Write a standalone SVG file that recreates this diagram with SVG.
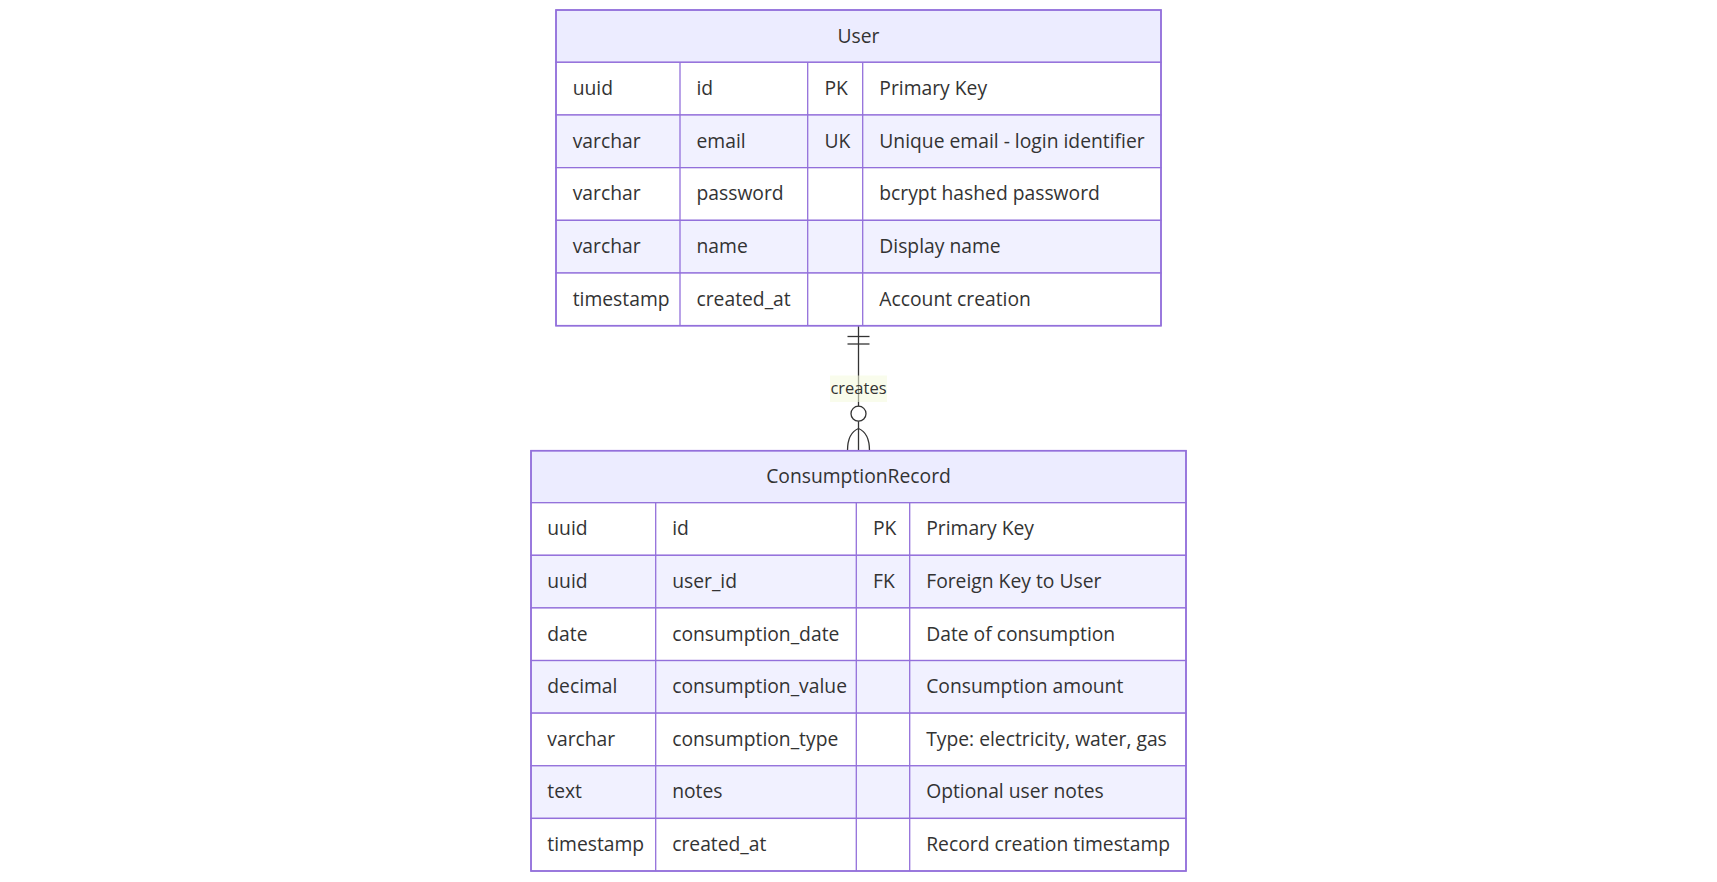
<svg xmlns="http://www.w3.org/2000/svg" width="1717" height="882" viewBox="0 0 1717 882">
<style>
.hdr{fill:#ECECFF;stroke:#9370DB;stroke-width:1.3}
.odd{fill:#FFFFFF;stroke:#9370DB;stroke-width:1.3}
.even{fill:#F1F1FF;stroke:#9370DB;stroke-width:1.3}
.ln{stroke:#9370DB;stroke-width:1.3;fill:none}
.out{fill:none;stroke:#9370DB;stroke-width:1.6}
text{font-family:"Open Sans","Noto Sans","DejaVu Sans",sans-serif;fill:#333333;font-size:19.3px;dominant-baseline:central}
.t{text-anchor:middle}
.edge{stroke:#333333;stroke-width:1.3;fill:none}
.lbl{font-size:16.5px;text-anchor:middle}
</style>
<rect width="1717" height="882" fill="#FFFFFF"/>
<g id="connectors">
<line class="edge" x1="858.5" y1="325.7" x2="858.5" y2="450.7"/>
<line class="edge" x1="847.5" y1="336.5" x2="869.5" y2="336.5"/>
<line class="edge" x1="847.5" y1="344" x2="869.5" y2="344"/>
<circle class="edge" cx="858.5" cy="413.7" r="7.5" style="fill:#FFFFFF"/>
<path class="edge" d="M858.5,428.5 C850,432 847.5,440 847.5,450.7"/>
<path class="edge" d="M858.5,428.5 C867,432 869.5,440 869.5,450.7"/>
<g id="edge-label">
<rect x="830" y="375.5" width="57" height="26.5" fill="#F4F9DC" opacity="0.55"/>
<text class="lbl" x="858.5" y="387.6">creates</text>
</g>
</g>
<g id="User">
<rect class="hdr" x="556" y="10" width="605" height="52.3"/>
<text class="t" x="858.5" y="35">User</text>
<rect class="odd" x="556" y="62.3" width="605" height="52.68"/>
<rect class="even" x="556" y="114.98" width="605" height="52.68"/>
<rect class="odd" x="556" y="167.66" width="605" height="52.68"/>
<rect class="even" x="556" y="220.34" width="605" height="52.68"/>
<rect class="odd" x="556" y="273.02" width="605" height="52.68"/>
<line class="ln" x1="680" y1="62.3" x2="680" y2="325.7"/>
<line class="ln" x1="807.7" y1="62.3" x2="807.7" y2="325.7"/>
<line class="ln" x1="862.7" y1="62.3" x2="862.7" y2="325.7"/>
<rect class="out" x="556" y="10" width="605" height="315.7"/>
<text x="572.7" y="87.4">uuid</text><text x="696.5" y="87.4">id</text><text x="824.5" y="87.4">PK</text><text x="879.3" y="87.4">Primary Key</text>
<text x="572.7" y="140.1">varchar</text><text x="696.5" y="140.1">email</text><text x="824.5" y="140.1">UK</text><text x="879.3" y="140.1">Unique email - login identifier</text>
<text x="572.7" y="192.8">varchar</text><text x="696.5" y="192.8">password</text><text x="879.3" y="192.8">bcrypt hashed password</text>
<text x="572.7" y="245.5">varchar</text><text x="696.5" y="245.5">name</text><text x="879.3" y="245.5">Display name</text>
<text x="572.7" y="298.2">timestamp</text><text x="696.5" y="298.2">created_at</text><text x="879.3" y="298.2">Account creation</text>
</g>
<g id="ConsumptionRecord">
<rect class="hdr" x="531" y="450.7" width="655" height="52"/>
<text class="t" x="858.5" y="475.5">ConsumptionRecord</text>
<rect class="odd" x="531" y="502.7" width="655" height="52.61"/>
<rect class="even" x="531" y="555.31" width="655" height="52.61"/>
<rect class="odd" x="531" y="607.93" width="655" height="52.61"/>
<rect class="even" x="531" y="660.54" width="655" height="52.61"/>
<rect class="odd" x="531" y="713.16" width="655" height="52.61"/>
<rect class="even" x="531" y="765.77" width="655" height="52.61"/>
<rect class="odd" x="531" y="818.39" width="655" height="52.61"/>
<line class="ln" x1="655.7" y1="502.7" x2="655.7" y2="871"/>
<line class="ln" x1="856.3" y1="502.7" x2="856.3" y2="871"/>
<line class="ln" x1="909.7" y1="502.7" x2="909.7" y2="871"/>
<rect class="out" x="531" y="450.7" width="655" height="420.3"/>
<text x="547.3" y="527.8">uuid</text><text x="672.2" y="527.8">id</text><text x="873" y="527.8">PK</text><text x="926.2" y="527.8">Primary Key</text>
<text x="547.3" y="580.4">uuid</text><text x="672.2" y="580.4">user_id</text><text x="873" y="580.4">FK</text><text x="926.2" y="580.4">Foreign Key to User</text>
<text x="547.3" y="633">date</text><text x="672.2" y="633">consumption_date</text><text x="926.2" y="633">Date of consumption</text>
<text x="547.3" y="685.6">decimal</text><text x="672.2" y="685.6">consumption_value</text><text x="926.2" y="685.6">Consumption amount</text>
<text x="547.3" y="738.3">varchar</text><text x="672.2" y="738.3">consumption_type</text><text x="926.2" y="738.3">Type: electricity, water, gas</text>
<text x="547.3" y="790.9">text</text><text x="672.2" y="790.9">notes</text><text x="926.2" y="790.9">Optional user notes</text>
<text x="547.3" y="843.5">timestamp</text><text x="672.2" y="843.5">created_at</text><text x="926.2" y="843.5">Record creation timestamp</text>
</g>
</svg>
